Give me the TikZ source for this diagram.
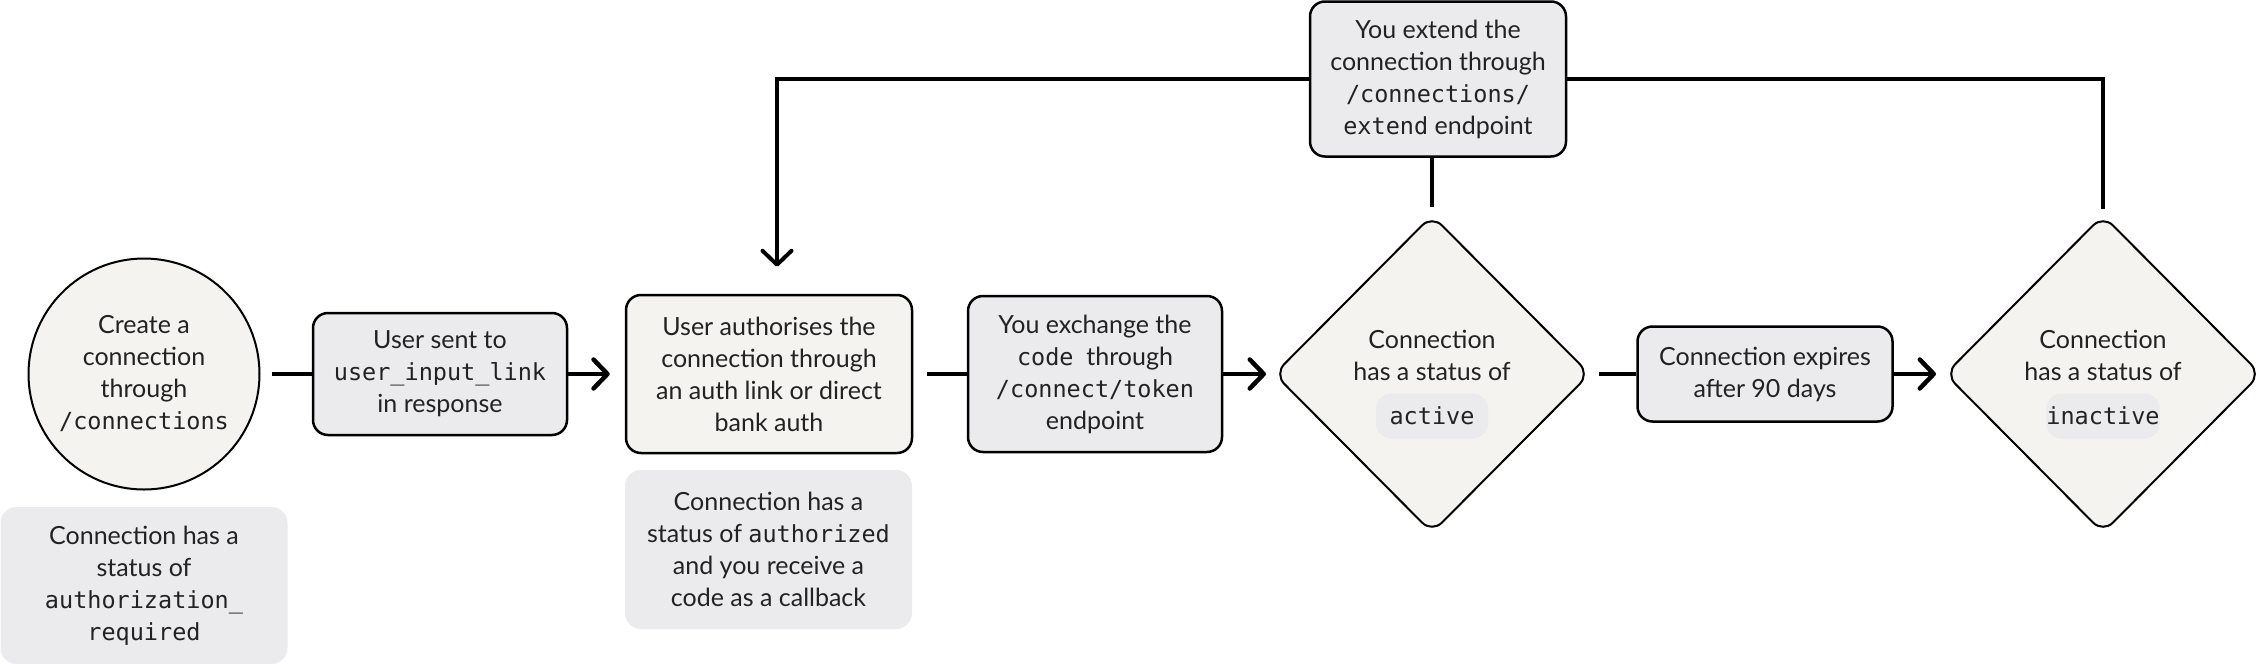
\documentclass[tikz,border=0pt]{standalone}
\usepackage{fontspec}
\setmainfont{Lato}
\setmonofont{DejaVu Sans Mono}[Scale=0.94]
\usetikzlibrary{arrows.meta,shapes.geometric}
\definecolor{cream}{HTML}{F4F3EF}
\definecolor{greyf}{HTML}{EBEBED}
\definecolor{ink}{HTML}{222222}
\begin{document}
\begin{tikzpicture}[x=1pt,y=-1pt,
  txt/.style={font=\fontsize{25}{32}\selectfont, align=center, text=ink, inner sep=0pt},
  box/.style={txt, draw=black, line width=2.5pt, rounded corners=15pt, fill=greyf},
  cbox/.style={box, fill=cream},
  note/.style={txt, fill=greyf, rounded corners=16pt},
  diam/.style={diamond, draw=black, line width=2pt, rounded corners=14pt, fill=cream, minimum width=316pt, minimum height=318pt, inner sep=0pt},
  pill/.style={txt, fill=greyf, rounded corners=15pt, minimum width=112pt, minimum height=45pt},
  conn/.style={draw=black, line width=4.5pt},
  arr/.style={conn, -{Straight Barb[length=14pt,width=29pt,round]}},
]
\useasboundingbox (0,0) rectangle (2263,664);

% nodes
\node[txt, circle, draw=black, line width=2pt, fill=cream, minimum size=231pt] (circ) at (144,374)
  {Create a\\connection\\through\\\texttt{/connections}};
\node[box, minimum width=254pt, minimum height=122pt] (b1) at (440,374)
  {User sent to\\\texttt{user\_input\_link}\\in response};
\node[cbox, minimum width=286pt, minimum height=158pt] (b2) at (769,374)
  {User authorises the\\connection through\\an auth link or direct\\bank auth};
\node[box, minimum width=254pt, minimum height=156pt] (b3) at (1095,374)
  {You exchange the\\\texttt{code}\ \ through\\\texttt{/connect/token}\\endpoint};
\node[diam] (d1) at (1432,374) {};
\node[txt] (d1t) at (1432,355) {Connection\\has a status of};
\node[pill] (d1p) at (1432,416) {\texttt{active}};
\node[box, minimum width=255pt, minimum height=95pt] (b4) at (1765,374)
  {Connection expires\\after 90 days};
\node[diam] (d2) at (2103,374) {};
\node[txt] (d2t) at (2103,355) {Connection\\has a status of};
\node[pill] (d2p) at (2103,416) {\texttt{inactive}};
\node[box, minimum width=256pt, minimum height=155pt] (top) at (1438,79)
  {You extend the\\connection through\\\texttt{/connections/}\\\texttt{extend} endpoint};
\node[note, minimum width=287pt, minimum height=157pt] (n1) at (144,585.5)
  {Connection has a\\status of\\\texttt{authorization\_}\\\texttt{required}};
\node[note, minimum width=287pt, minimum height=159pt] (n2) at (768.5,549.5)
  {Connection has a\\status of \texttt{authorized}\\and you receive a\\code as a callback};

% connectors
\draw[conn, shorten <=11pt] (circ.east) -- (b1.west);
\draw[arr, shorten >=15pt] (b1.east) -- (b2.west);
\draw[conn, shorten <=14pt] (b2.east) -- (b3.west);
\draw[arr, shorten >=7pt] (b3.east) -- (d1.west);
\draw[conn, shorten <=8pt] (d1.east) -- (b4.west);
\draw[arr, shorten >=8pt] (b4.east) -- (d2.west);
\draw[conn, line width=4pt, shorten <=7pt] (d1.north) -- (d1.north |- top.south);
\draw[arr, line width=4pt, shorten >=27pt] (top.west) -| ([xshift=8pt]b2.north);
\draw[conn, line width=4pt, shorten <=5pt] (d2.north) |- (top.east);
\end{tikzpicture}
\end{document}
